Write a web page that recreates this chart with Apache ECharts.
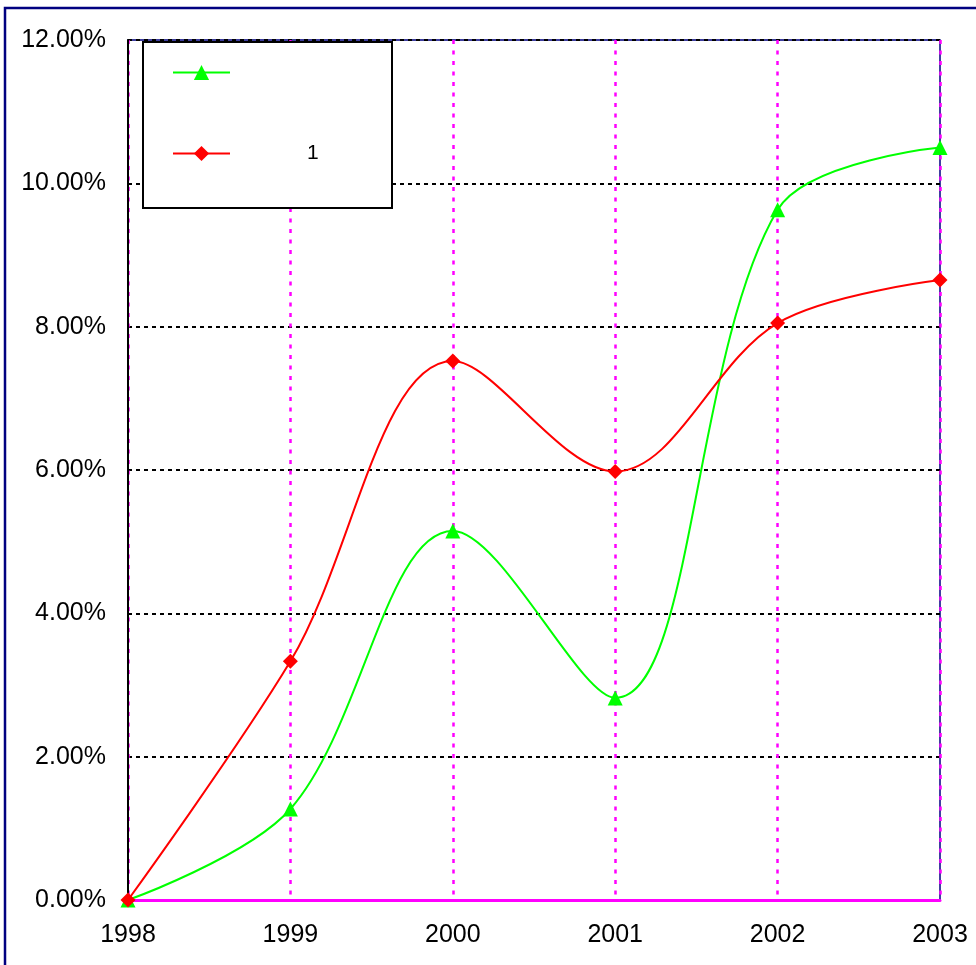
<!DOCTYPE html>
<html><head><meta charset="utf-8">
<script src="https://cdn.jsdelivr.net/npm/echarts@6/dist/echarts.min.js"></script>
<style>html,body{margin:0;padding:0;background:#fff}#c{width:976px;height:965px}</style>
</head><body><div id="c"></div>
<script>
const years = ['1998','1999','2000','2001','2002','2003'];
const greenName = ' ';
const redName = '1';
const greenValues = [0, 1.27, 5.15, 2.82, 9.63, 10.5];
const redValues = [0, 3.33, 7.52, 5.98, 8.05, 8.65];
const yTicks = [0, 2, 4, 6, 8, 10, 12];

const chart = echarts.init(document.getElementById('c'), null, {renderer: 'canvas'});
const font = 'Liberation Sans, Arial, sans-serif';
chart.setOption({
  animation: false,
  backgroundColor: '#fff',
  grid: {left: 128, top: 40, right: 36, bottom: 65, show: true, borderColor: '#000080', borderWidth: 1.5, backgroundColor: 'transparent'},
  xAxis: {
    type: 'category', data: years, boundaryGap: false,
    axisLine: {lineStyle: {color: '#ff00ff', width: 3}},
    axisTick: {show: false},
    axisLabel: {color: '#000', fontSize: 25, fontFamily: font, margin: 23},
    splitLine: {show: true, lineStyle: {color: '#ff00ff', width: 2.5, type: [4, 6.5]}}
  },
  yAxis: {
    type: 'value', min: yTicks[0], max: yTicks[yTicks.length - 1], interval: 2,
    axisLine: {show: true, lineStyle: {color: '#000', width: 2}},
    axisTick: {show: false},
    axisLabel: {color: '#000', fontSize: 25, fontFamily: font, margin: 22, formatter: v => v.toFixed(2) + '%'},
    splitLine: {show: true, lineStyle: {color: '#000', width: 2, type: [4, 4]}}
  },
  legend: {
    orient: 'vertical', left: 172, top: 62, padding: 0, itemWidth: 57, itemHeight: 19, itemGap: 60, z: 30,
    data: [greenName, redName],
    textStyle: {color: '#000', fontSize: 21, fontFamily: font, padding: [0, 0, 0, 72]}
  },
  graphic: [
    {type: 'rect', shape: {x: 5, y: 8, width: 1200, height: 1200}, style: {fill: 'none', stroke: '#000080', lineWidth: 2.5}, z: 100, silent: true},
    {type: 'rect', shape: {x: 143, y: 42, width: 249, height: 166}, style: {fill: '#fff', stroke: '#000', lineWidth: 2}, z: 10, silent: true}
  ],
  series: [
    {name: greenName, type: 'line', data: greenValues, smooth: 0.35, color: '#00ff00',
     lineStyle: {width: 2, color: '#00ff00'}, symbol: 'triangle', symbolSize: 15, itemStyle: {color: '#00ff00'}, z: 5},
    {name: redName, type: 'line', data: redValues, smooth: 0.35, color: '#ff0000',
     lineStyle: {width: 2, color: '#ff0000'}, symbol: 'diamond', symbolSize: 15, itemStyle: {color: '#ff0000'}, z: 6}
  ]
});
</script></body></html>
